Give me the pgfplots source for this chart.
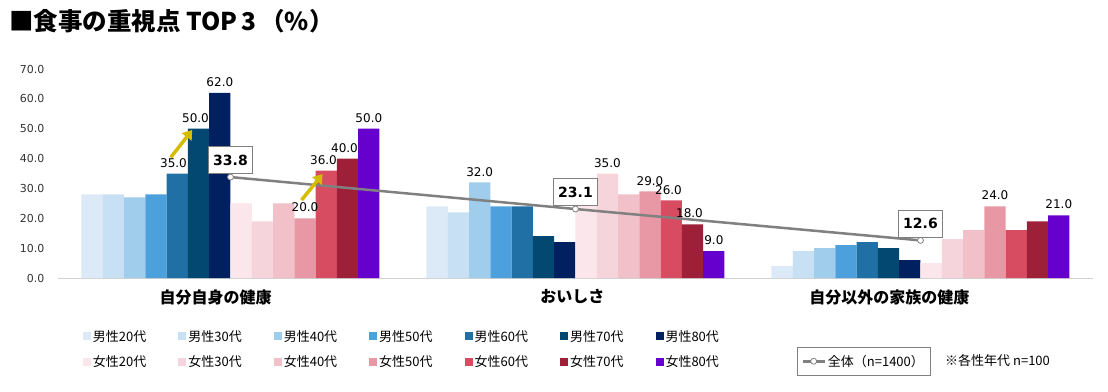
\documentclass[border=0pt]{standalone}
\usepackage{fontspec}
\setmainfont{DejaVu Sans}
\newfontfamily\cjk{Noto Sans CJK JP}
\usepackage{pgfplots}
\pgfplotsset{compat=1.18}
\usetikzlibrary{arrows.meta}
\definecolor{m20}{RGB}{220,234,247}
\definecolor{m30}{RGB}{200,224,244}
\definecolor{m40}{RGB}{160,205,236}
\definecolor{m50}{RGB}{76,161,220}
\definecolor{m60}{RGB}{32,112,166}
\definecolor{m70}{RGB}{2,72,112}
\definecolor{m80}{RGB}{0,32,96}
\definecolor{f20}{RGB}{251,230,235}
\definecolor{f30}{RGB}{246,212,219}
\definecolor{f40}{RGB}{241,192,201}
\definecolor{f50}{RGB}{232,152,164}
\definecolor{f60}{RGB}{216,76,98}
\definecolor{f70}{RGB}{158,32,56}
\definecolor{f80}{RGB}{102,0,204}
\definecolor{linegray}{RGB}{128,128,128}
\definecolor{arrowyellow}{RGB}{212,188,0}
\pgfplotsset{
  mybar/.style 2 args={ybar, bar width=0.0617, bar shift=#1, fill=#2, draw=none,
    legend image code/.code={\fill[##1] (0pt,-4pt) rectangle (8pt,4pt);}},
  lbl/.style={point meta=explicit symbolic, nodes near coords={\pgfplotspointmeta},
    nodes near coords style={font=\fontsize{12}{12}\selectfont, anchor=south, inner sep=1pt, yshift=5pt, xshift=#1, text=black}},
}
\begin{document}
\begin{tikzpicture}
\path[use as bounding box] (0,0) rectangle (1108pt,391pt);
\node[anchor=west, font=\cjk\bfseries\fontsize{24.5}{24.5}\selectfont, inner sep=0] at (9pt,370pt) {■食事の重視点 TOP\,3\,（\%）};
\begin{axis}[
  at={(58pt,113pt)}, anchor=south west,
  scale only axis, width=1035pt, height=209pt,
  xmin=-0.5, xmax=2.5, ymin=0, ymax=70,
  clip=false,
  axis x line=bottom, axis y line=left,
  x axis line style={-, draw=black!18, line width=1pt},
  y axis line style={draw=none},
  xtick={-0.043,0.991,1.910},
  xticklabels={自分自身の健康, おいしさ, 自分以外の家族の健康},
  xticklabel style={font=\cjk\bfseries\fontsize{16}{16}\selectfont, yshift=-8pt},
  ytick={0,10,...,70},
  major tick length=0pt,
  /pgf/number format/assume math mode=true,
  yticklabel style={font=\fontsize{11}{11}\selectfont, text=black!80, xshift=-10pt},
  y tick label style={/pgf/number format/fixed, /pgf/number format/fixed zerofill, /pgf/number format/precision=1},
  legend columns=7,
  legend cell align=left,
  legend style={at={(0.021,-0.23)}, anchor=north west, draw=none, fill=none,
    font=\cjk\fontsize{13}{13}\selectfont,
    /tikz/every even column/.append style={column sep=30pt}, row sep=9pt},
]
\addplot[mybar={-0.40105}{m20}] coordinates {(0,28) (1,24) (2,4)};
\addplot[mybar={-0.33935}{m30}] coordinates {(0,28) (1,22) (2,9)};
\addplot[mybar={-0.27765}{m40}, lbl=-95.79pt] coordinates {(0,27) [] (1,32) [32.0] (2,10) []};
\addplot[mybar={-0.21595}{m50}] coordinates {(0,28) (1,24) (2,11)};
\addplot[mybar={-0.15425}{m60}, lbl=-57pt] coordinates {(0,35) [35.0] (1,24) [] (2,12) []};
\addplot[mybar={-0.09255}{m70}, lbl=-35pt] coordinates {(0,50) [50.0] (1,14) [] (2,10) []};
\addplot[mybar={-0.03085}{m80}, lbl=-10.64pt] coordinates {(0,62) [62.0] (1,12) [] (2,6) []};
\addplot[mybar={0.03085}{f20}] coordinates {(0,25) (1,27) (2,5)};
\addplot[mybar={0.09255}{f30}, lbl=31.93pt] coordinates {(0,19) [] (1,35) [35.0] (2,13) []};
\addplot[mybar={0.15425}{f40}] coordinates {(0,25) (1,28) (2,16)};
\addplot[mybar={0.21595}{f50}, lbl=74.5pt] coordinates {(0,20) [20.0] (1,29) [29.0] (2,24) [24.0]};
\addplot[mybar={0.27765}{f60}, lbl=93pt] coordinates {(0,36) [36.0] (1,26) [26.0] (2,16) []};
\addplot[mybar={0.33935}{f70}, lbl=114pt] coordinates {(0,40) [40.0] (1,18) [18.0] (2,19) []};
\addplot[mybar={0.40105}{f80}, lbl=138.36pt] coordinates {(0,50) [50.0] (1,9) [9.0] (2,21) [21.0]};
\legend{男性20代,男性30代,男性40代,男性50代,男性60代,男性70代,男性80代,
        女性20代,女性30代,女性40代,女性50代,女性60代,女性70代,女性80代}
\addplot[forget plot, color=linegray, line width=2.5pt, mark=*, mark size=3pt,
  mark options={fill=white, draw=linegray, line width=0.8pt},
  point meta=explicit symbolic, nodes near coords={\pgfplotspointmeta},
  nodes near coords style={font=\bfseries\fontsize{14}{14}\selectfont, draw=linegray, fill=white,
    line width=0.8pt, anchor=south, yshift=3pt, inner xsep=5pt, minimum height=27pt, text=black}]
  coordinates {(0,33.8) [33.8] (1,23.1) [23.1] (2,12.6) [12.6]};
\draw[arrowyellow, line width=3.5pt, -{Triangle[length=9pt,width=12pt]}] (-0.173,40.4) -- (-0.111,49.6);
\draw[arrowyellow, line width=3.5pt, -{Triangle[length=9pt,width=12pt]}] (0.206,26.1) -- (0.267,34.8);
\end{axis}
\begin{axis}[
  at={(58pt,113pt)}, anchor=south west,
  scale only axis, width=1035pt, height=209pt,
  hide axis, xmin=0, xmax=1, ymin=0, ymax=1,
  legend style={at={(0.714,-0.328)}, anchor=north west, draw=linegray, line width=0.8pt,
    font=\cjk\fontsize{13}{13}\selectfont, inner xsep=4pt, inner ysep=6pt},
  legend image code/.code={\draw[mark repeat=2, mark phase=2, #1] plot coordinates {(0pt,0pt) (11pt,0pt) (22pt,0pt)};},
]
\addlegendimage{color=linegray, line width=2.5pt, mark=*, mark size=3pt, mark options={fill=white, draw=linegray, line width=0.8pt}}
\addlegendentry{全体（n=1400）}
\end{axis}
\node[anchor=west, font=\cjk\fontsize{13}{13}\selectfont, inner sep=0] at (945pt,30pt) {※各性年代 n=100};
\end{tikzpicture}
\end{document}
